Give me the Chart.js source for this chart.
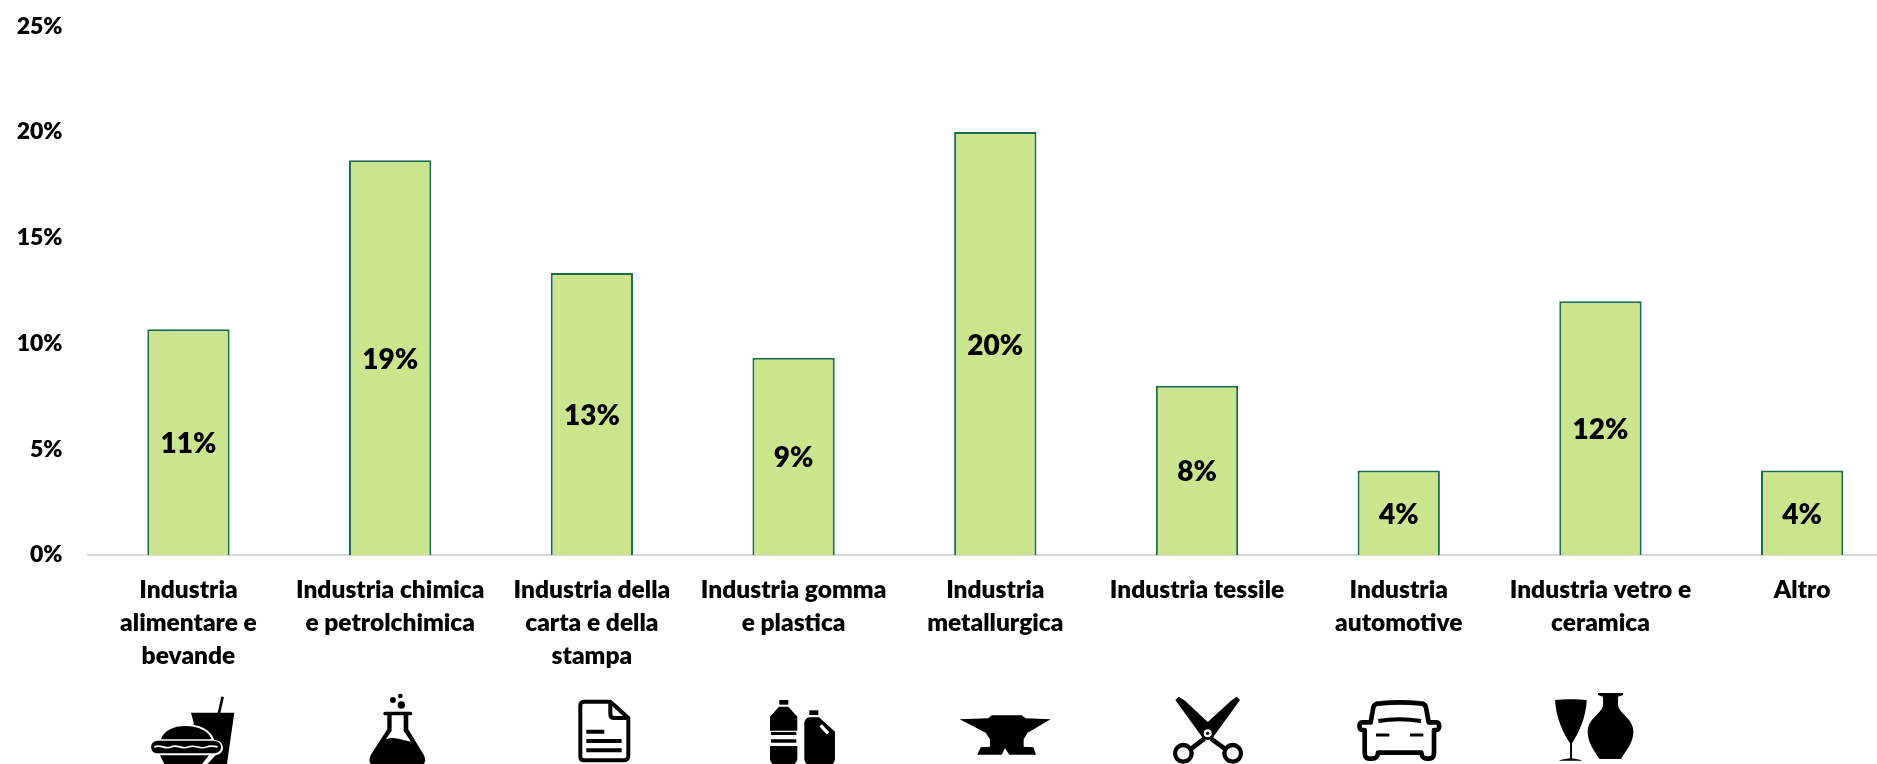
<!DOCTYPE html>
<html lang="it">
<head>
<meta charset="utf-8">
<title>Settori industriali</title>
<script src="https://cdn.jsdelivr.net/npm/chart.js@4/dist/chart.umd.min.js"></script>
<style>
  html, body { margin: 0; padding: 0; background: #fff; overflow: hidden; width: 1877px; height: 764px; }
  canvas { display: block; }
</style>
</head>
<body>
<canvas id="chart" width="1903" height="764"></canvas>
<script>
const categories = [
  ['Industria', 'alimentare e', 'bevande'],
  ['Industria chimica', 'e petrolchimica'],
  ['Industria della', 'carta e della', 'stampa'],
  ['Industria gomma', 'e plastica'],
  ['Industria', 'metallurgica'],
  ['Industria tessile'],
  ['Industria', 'automotive'],
  ['Industria vetro e', 'ceramica'],
  ['Altro']
];
const shares = [10.67, 18.67, 13.33, 9.33, 20, 8, 4, 12, 4];
const axisTicks = [0, 5, 10, 15, 20, 25];

const FONT = 'Lato, "Open Sans", sans-serif';

// Pictograms: each one is a stack of layers on a 300-unit-wide grid (3 units = 1px).
// A layer is [svg path, fill colour] or [svg path, stroke colour, stroke width].
const K = '#000', W = '#fff';
const icons = [
  { dx: -43.5, layers: [
    ['M233 20L222 70', K, 8],
    ['M138 68H268L246 222H150L146 97Z', K],
    ['M40 150C48 118 80 103 122 103C165 103 198 120 208 150C240 150 244 192 212 196L180 230H50L36 196Z', W],
    ['M48 148C56 122 85 108 122 108C160 108 192 124 200 148Z', K],
    ['M38 152H205C236 152 236 190 205 190H38C12 190 12 152 38 152Z', K],
    ['M28 172C45 160 58 180 78 171C98 161 110 180 130 171C150 162 165 180 185 171C198 165 208 170 218 170', W, 5],
    ['M45 196H192L168 226H60Z', K]
  ]},
  { dx: -40.2, layers: [
    ['M129 30m-9 0a9 9 0 1 0 18 0a9 9 0 1 0-18 0Z', K],
    ['M151 18m-7 0a7 7 0 1 0 14 0a7 7 0 1 0-14 0Z', K],
    ['M154 45m-11 0a11 11 0 1 0 22 0a11 11 0 1 0-22 0Z', K],
    ['M106 65H181C189 65 189 76 181 76H106C98 76 98 65 106 65Z', K],
    ['M112 72H175V118L222 196C230 212 224 226 210 226H74C60 226 54 212 62 196L112 118Z', K],
    ['M125 76H161V122L183 155C165 152 150 146 132 144C122 143 115 145 108 148L125 122Z', W]
  ]},
  { dx: -36.9, layers: [
    ['M86 35H166L220 84V198C220 206 214 211 206 211H86C80 211 76 206 76 198V46C76 40 80 35 86 35Z', K, 12],
    ['M166 38V72C166 80 170 84 178 84H218', K, 12],
    ['M94 125H148M94 153H200M94 181H200', K, 12]
  ]},
  { dx: -38.6, layers: [
    ['M73 30H100V44H73Z', K],
    ['M72 50H100L127 80V122H45V80Z', K],
    ['M48 126H124V135H48ZM48 148H124V158H48Z', K],
    ['M45 168H127V205C127 218 117 226 105 226H67C55 226 45 218 45 205Z', K],
    ['M163 61H190V75H163Z', K],
    ['M165 82H192L240 125V205C240 218 232 226 220 226H168C156 226 148 218 148 205V100C148 90 155 82 165 82Z', K],
    ['M197 106L219 130', W, 10]
  ]},
  { dx: -40.3, layers: [
    ['M14 88L100 85L110 76H200L212 85L287 88L218 128L206 148V170L235 172L243 194H163L150 175L140 194H67L77 172L105 170V148L92 128Z', K]
  ]},
  { dx: -37, layers: [
    ['M46 30L56 20L75 32L160 112L130 146Z', K],
    ['M240 30L230 20L213 32L126 112L156 146Z', K],
    ['M133 146L94 176M153 146L194 176', K, 14],
    ['M70 190m-25 0a25 25 0 1 0 50 0a25 25 0 1 0-50 0Z', K, 13],
    ['M218 190m-25 0a25 25 0 1 0 50 0a25 25 0 1 0-50 0Z', K, 13],
    ['M143 130m-20 0a20 20 0 1 0 40 0a20 20 0 1 0-40 0Z', K],
    ['M143 130m-12 0a12 12 0 1 0 24 0a12 12 0 1 0-24 0Z', W],
    ['M143 130m-5 0a5 5 0 1 0 10 0a5 5 0 1 0-10 0Z', K]
  ]},
  { dx: -48.7, layers: [
    ['M62 97L70 52C72 44 80 40 90 40C130 36 170 36 210 40C220 40 226 44 228 52L236 97H260C270 97 270 120 260 120H252V185C252 205 245 206 232 206C222 206 216 204 214 188H84C82 204 76 206 66 206C50 206 44 205 44 185V120H36C26 120 26 97 36 97Z', K, 14],
    ['M85 93C125 86 170 86 213 93', K, 12],
    ['M78 135H118M180 135H220', K, 9]
  ]},
  { dx: -50.4, layers: [
    ['M15 30C40 27 85 27 110 30C108 85 85 130 66 160V205C76 207 90 208 96 212H27C33 208 50 207 60 205V160C40 130 18 85 15 30Z', K],
    ['M144 9H219V15L204 20V45C206 70 250 85 250 125C250 160 225 185 213 207H148C135 185 113 160 113 125C113 85 157 70 159 45V20L144 15Z', K]
  ]},
  null
];

const valueLabels = {
  id: 'valueLabels',
  afterDatasetsDraw(chart) {
    const { ctx } = chart;
    ctx.save();
    ctx.font = `800 28px ${FONT}`;
    ctx.fillStyle = '#000';
    ctx.textAlign = 'center';
    ctx.textBaseline = 'middle';
    chart.getDatasetMeta(0).data.forEach((bar, i) => {
      const c = bar.getCenterPoint();
      ctx.fillText(Math.round(shares[i]) + '%', c.x, c.y + 2);
    });
    ctx.restore();
  }
};

const sectorIcons = {
  id: 'sectorIcons',
  afterDraw(chart) {
    const { ctx, scales } = chart;
    icons.forEach((icon, i) => {
      if (!icon) return;
      ctx.save();
      ctx.translate(scales.x.getPixelForValue(i) + icon.dx, 690);
      ctx.scale(1 / 3, 1 / 3);
      icon.layers.forEach(([d, colour, width]) => {
        const path = new Path2D(d);
        if (width) {
          ctx.strokeStyle = colour;
          ctx.lineWidth = width;
          ctx.lineCap = 'butt';
          ctx.lineJoin = 'round';
          ctx.stroke(path);
        } else {
          ctx.fillStyle = colour;
          ctx.fill(path);
        }
      });
      ctx.restore();
    });
  }
};

new Chart(document.getElementById('chart'), {
  type: 'bar',
  data: {
    labels: categories,
    datasets: [{
      data: shares,
      backgroundColor: '#cbe58e',
      borderColor: '#1c6b4c',
      borderWidth: 2,
      barPercentage: 0.408,
      categoryPercentage: 1
    }]
  },
  plugins: [valueLabels, sectorIcons],
  options: {
    responsive: false,
    animation: false,
    layout: { padding: { top: 26.3, right: 0, bottom: 0, left: 0 } },
    plugins: { legend: { display: false }, tooltip: { enabled: false } },
    scales: {
      x: {
        grid: { display: false, drawTicks: false },
        border: { display: true, color: '#d9d9d9', width: 2 },
        afterFit(scale) { scale.height = 209; },
        ticks: {
          color: '#000',
          padding: 19,
          maxRotation: 0,
          autoSkip: false,
          font: { family: FONT, weight: 800, size: 24.5, lineHeight: 1.347 }
        }
      },
      y: {
        min: 0,
        max: 25,
        grid: { display: false, drawTicks: false },
        border: { display: false },
        afterFit(scale) {
          scale.width = 87.6;
          scale.paddingTop = 0;
          scale.paddingBottom = 0;
        },
        afterBuildTicks(scale) { scale.ticks = axisTicks.map(value => ({ value })); },
        ticks: {
          color: '#000',
          padding: 25,
          font: { family: FONT, weight: 800, size: 23 },
          callback: value => value + '%'
        }
      }
    }
  }
});
</script>
</body>
</html>
